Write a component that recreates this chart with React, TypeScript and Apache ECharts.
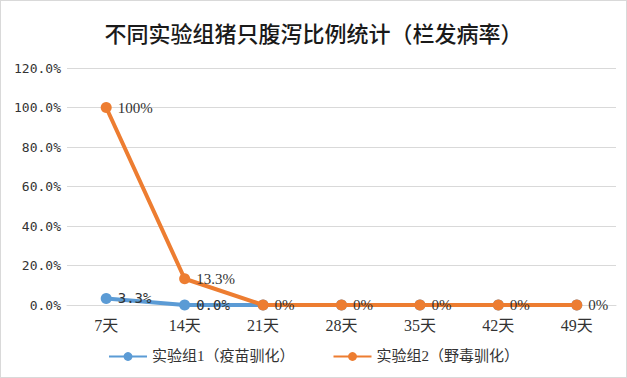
import React, { useEffect, useRef } from "react";
import * as echarts from "echarts";

const categories = ["7天", "14天", "21天", "28天", "35天", "42天", "49天"];
const group1 = [3.3, 0, 0, 0, 0, 0, 0];
const group1Labels = ["3.3%", "0.0%", "", "", "", "", ""];
const group2 = [100, 13.3, 0, 0, 0, 0, 0];
const group2Labels = ["100%", "13.3%", "0%", "0%", "0%", "0%", "0%"];
const seriesNames = ["实验组1（疫苗驯化）", "实验组2（野毒驯化）"];

const FONT = "'Liberation Serif', 'Noto Sans CJK SC', serif";

export default function App() {
  const ref = useRef<HTMLDivElement>(null);
  useEffect(() => {
    if (!ref.current) return;
    const chart = echarts.init(ref.current, null, { renderer: "svg" });
    chart.setOption({
      animation: false,
      backgroundColor: "#ffffff",
      title: {
        text: "不同实验组猪只腹泻比例统计（栏发病率）",
        left: "center",
        top: 15,
        textStyle: { fontSize: 22, fontWeight: 500, color: "#1a1a1a", fontFamily: "'Noto Sans CJK SC', sans-serif" },
      },
      legend: {
        bottom: 8,
        left: "center",
        itemWidth: 38,
        itemHeight: 11,
        itemGap: 38,
        textStyle: { fontSize: 15, color: "#333", fontFamily: FONT },
        data: seriesNames,
      },
      grid: { left: 66, right: 10, top: 67, bottom: 72 },
      xAxis: {
        type: "category",
        data: categories,
        boundaryGap: true,
        axisLine: { show: true, lineStyle: { color: "#d9d9d9" } },
        axisTick: { show: false },
        axisLabel: { fontSize: 16, color: "#333", fontFamily: FONT, margin: 12 },
      },
      yAxis: {
        type: "value",
        min: 0,
        max: 120,
        interval: 20,
        axisLine: { show: false },
        axisTick: { show: false },
        splitLine: { lineStyle: { color: "#d9d9d9", width: 1 } },
        axisLabel: {
          fontSize: 13,
          color: "#333",
          fontFamily: "'DejaVu Sans Mono', 'Liberation Mono', monospace",
          margin: 6,
          formatter: (v: number) => v.toFixed(1) + "%",
        },
      },
      series: [
        {
          name: seriesNames[0],
          type: "line",
          data: group1,
          color: "#5B9BD5",
          lineStyle: { width: 4 },
          symbol: "circle",
          symbolSize: 11,
          z: 2,
          label: {
            show: true,
            position: "right",
            distance: 6,
            fontSize: 14,
            color: "#333",
            fontFamily: "'DejaVu Sans Mono', monospace",
            formatter: (p: any) => group1Labels[p.dataIndex],
          },
        },
        {
          name: seriesNames[1],
          type: "line",
          data: group2,
          color: "#ED7D31",
          lineStyle: { width: 4 },
          symbol: "circle",
          symbolSize: 11,
          z: 3,
          label: {
            show: true,
            position: "right",
            distance: 6,
            fontSize: 15,
            color: "#333",
            fontFamily: FONT,
            formatter: (p: any) => group2Labels[p.dataIndex],
          },
        },
      ],
    });
    return () => chart.dispose();
  }, []);
  return (
    <div
      style={{
        position: "fixed",
        left: 0,
        top: 0,
        width: 627,
        height: 378,
        boxSizing: "border-box",
        border: "1px solid #d9d9d9",
        background: "#fff",
      }}
    >
      <div ref={ref} style={{ width: 625, height: 376 }} />
    </div>
  );
}
